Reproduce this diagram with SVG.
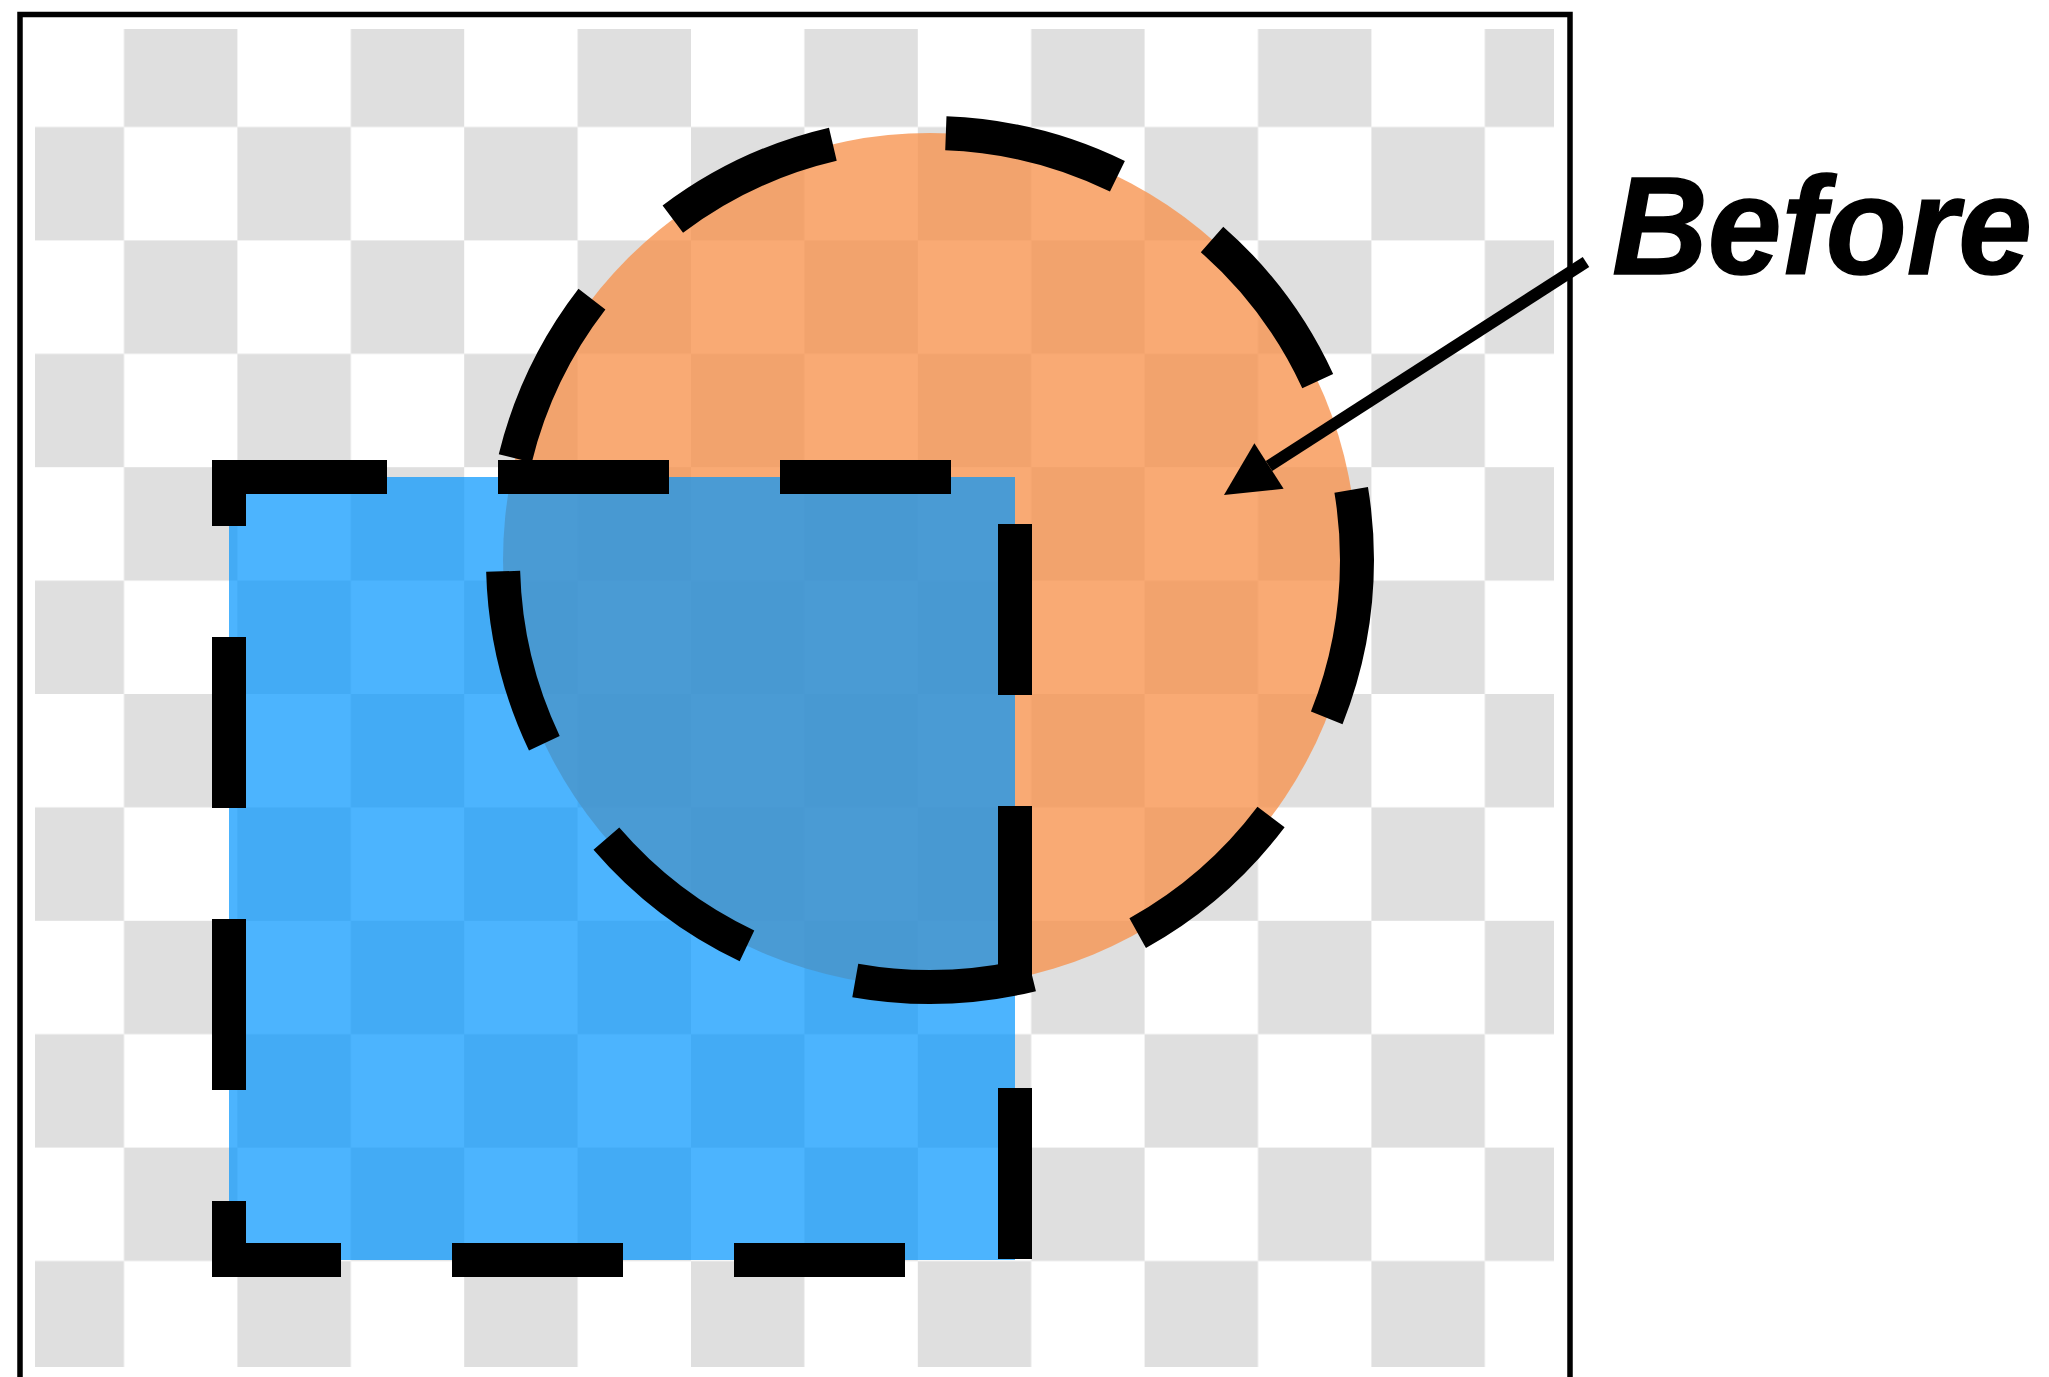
<svg xmlns="http://www.w3.org/2000/svg" width="2049" height="1377" viewBox="0 0 2049 1377">
<defs>
<style>
.outline{fill:none;stroke:#000;stroke-width:34;stroke-linecap:butt;stroke-linejoin:miter}
.label{font-family:"Liberation Sans",Arial,sans-serif;font-weight:bold;font-style:italic;font-size:139px;fill:#000;stroke:#000;stroke-width:1.5}
.connector{fill:none;stroke:#000;stroke-width:12}
</style>
<pattern id="checker" patternUnits="userSpaceOnUse" x="10.6" y="13.6" width="226.8" height="226.8">
<rect x="113.4" y="0" width="113.4" height="113.4" fill="#dfdfdf"/>
<rect x="0" y="113.4" width="113.4" height="113.4" fill="#dfdfdf"/>
</pattern>
<marker id="arrowhead" markerUnits="userSpaceOnUse" markerWidth="54" markerHeight="54" refX="0" refY="27" orient="auto" overflow="visible">
<path d="M0,0 L53.5,27 L0,54 Z" fill="#000"/>
</marker>
</defs>
<rect width="2049" height="1377" fill="#fff"/>
<g id="canvas">
<rect x="20" y="14.5" width="1550" height="1370" fill="#fff" stroke="#000" stroke-width="5.5"/>
<rect x="35" y="29" width="1519" height="1338" fill="url(#checker)"/>
</g>
<g id="circle"><circle cx="930" cy="560" r="427" fill="#f7924d" fill-opacity="0.78"/></g>
<g id="square"><rect x="229" y="477" width="786" height="783" fill="#0094fe" fill-opacity="0.7"/></g>
<g id="circle-outline"><path class="outline" d="M1357,560 A427,427 0 0 1 503,560 A427,427 0 0 1 1357,560 Z" stroke-dasharray="178 114" stroke-dashoffset="16.3"/></g>
<g id="square-outline"><path class="outline" d="M229,477 H1015 V1260 H229 Z" stroke-dasharray="171 111" stroke-dashoffset="13"/></g>
<g id="connectors"><line class="connector" x1="1586" y1="262" x2="1269" y2="466" marker-end="url(#arrowhead)"/></g>
<g id="label-before"><text class="label" x="1612" y="274" textLength="420" lengthAdjust="spacingAndGlyphs">Before</text></g>
</svg>
